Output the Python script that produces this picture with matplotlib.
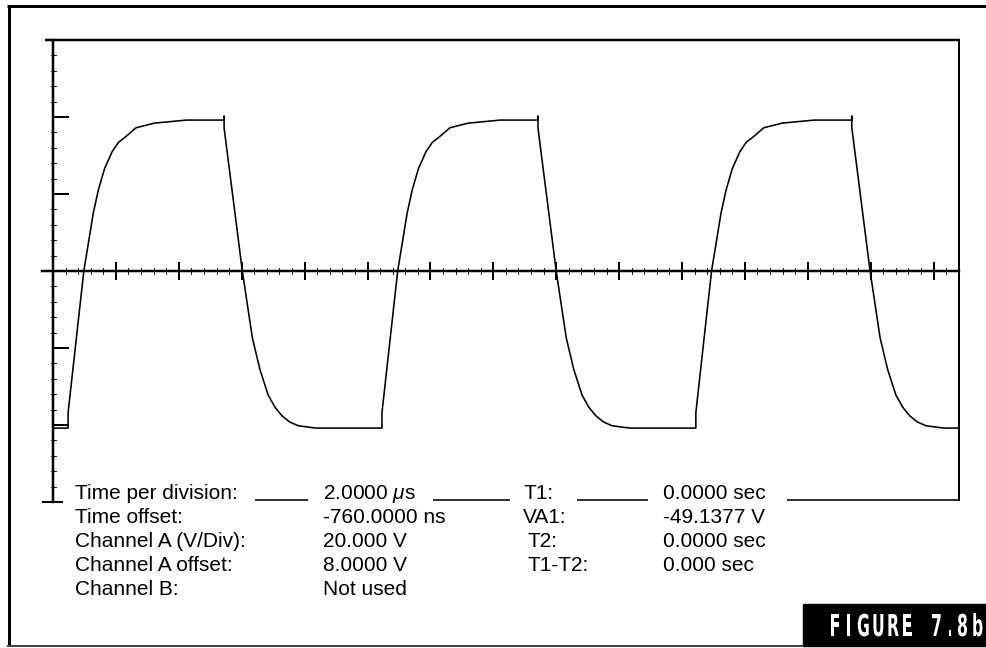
import matplotlib

matplotlib.use("Agg")

import matplotlib.pyplot as plt
import numpy as np
from matplotlib.font_manager import FontProperties
from matplotlib.patches import PathPatch, Rectangle
from matplotlib.textpath import TextPath
from matplotlib.transforms import Affine2D

W, H = 986, 648

# scope trace, in screen divisions (x: horizontal ticks, y: vertical divisions)
trace_x = [
    0.00,
    0.24, 0.24, 0.49, 0.64, 0.72, 0.82, 0.94, 1.04, 1.15, 1.32, 1.61, 2.12,
    2.72, 2.72, 2.72, 3.01, 3.17, 3.29, 3.42, 3.53, 3.64, 3.76, 3.90, 4.18,
    5.23, 5.23, 5.48, 5.63, 5.71, 5.81, 5.93, 6.03, 6.14, 6.31, 6.60, 7.11,
    7.71, 7.71, 7.71, 8.00, 8.16, 8.28, 8.41, 8.52, 8.63, 8.75, 8.89, 9.17,
    10.22, 10.22, 10.47, 10.62, 10.70, 10.80, 10.92, 11.02, 11.13, 11.30, 11.59, 12.10,
    12.70, 12.70, 12.70, 12.99, 13.15, 13.27, 13.40, 13.51, 13.62, 13.74, 13.88, 14.16,
    14.40,
]
trace_y = [
    -2.04,
    -2.04, -1.84, 0.00, 0.75, 1.05, 1.33, 1.55, 1.67, 1.74, 1.86, 1.92, 1.96,
    1.96, 2.01, 1.86, 0.00, -0.87, -1.28, -1.61, -1.77, -1.88, -1.96, -2.01, -2.04,
    -2.04, -1.84, 0.00, 0.75, 1.05, 1.33, 1.55, 1.67, 1.74, 1.86, 1.92, 1.96,
    1.96, 2.01, 1.86, 0.00, -0.87, -1.28, -1.61, -1.77, -1.88, -1.96, -2.01, -2.04,
    -2.04, -1.84, 0.00, 0.75, 1.05, 1.33, 1.55, 1.67, 1.74, 1.86, 1.92, 1.96,
    1.96, 2.01, 1.86, 0.00, -0.87, -1.28, -1.61, -1.77, -1.88, -1.96, -2.01, -2.04,
    -2.04,
]

x_major = list(range(1, 15))
y_major = [-2, -1, 1, 2]
x_end = 14.40
y_top, y_bottom = 3.0, -3.0

info_labels = ["Time per division:", "Time offset:", "Channel A (V/Div):", "Channel A offset:", "Channel B:"]
info_values = ["2.0000 $\\mu$s", "-760.0000 ns", "20.000 V", "8.0000 V", "Not used"]
cursor_labels = ["T1:", "VA1:", "T2:", "T1-T2:"]
cursor_values = ["0.0000 sec", "-49.1377 V", "0.0000 sec", "0.000 sec"]
figure_tag = "FIGURE 7.8b"

# screen geometry (pixels)
X0_PX, DX_PX = 53.0, 62.9
Y0_PX, DY_PX = 271.0, 77.0


def lw(px):
    return px * 0.72


plt.rcParams["font.family"] = ["Liberation Sans", "DejaVu Sans"]
plt.rcParams["mathtext.fontset"] = "custom"
plt.rcParams["mathtext.it"] = "Liberation Sans:italic"
plt.rcParams["mathtext.rm"] = "Liberation Sans"

fig = plt.figure(figsize=(W / 100, H / 100), dpi=100)
ax = fig.add_axes([0, 0, 1, 1])
ax.set_xlim(-X0_PX / DX_PX, (W - X0_PX) / DX_PX)
ax.set_ylim((Y0_PX - H) / DY_PX, Y0_PX / DY_PX)
ax.axis("off")

px = Affine2D().scale(1 / W, -1 / H).translate(0, 1) + fig.transFigure


def pline(xs, ys, width, color="black"):
    ax.plot(xs, ys, color=color, lw=lw(width), transform=px, solid_capstyle="butt", clip_on=False)


# outer frame
pline([8.5, 8.5], [5, 646], 3)
pline([7, W], [6, 6], 3)
pline([7, 803], [645.5, 645.5], 2, color="#444444")

# graticule frame and axes
k = "black"
ax.plot([-8 / DX_PX, x_end], [y_top, y_top], color=k, lw=lw(2.5), solid_capstyle="butt")
ax.plot([x_end, x_end], [y_top, (Y0_PX - 500) / DY_PX], color=k, lw=lw(2))
ax.plot([0, 0], [y_top, y_bottom], color=k, lw=lw(2.5))
ax.plot([-10 / DX_PX, 9 / DX_PX], [y_bottom, y_bottom], color=k, lw=lw(2))
ax.plot([-11 / DX_PX, x_end], [0, 0], color=k, lw=lw(2.5))

# vertical ticks
for yv in y_major:
    ax.plot([0, 15 / DX_PX], [yv, yv], color=k, lw=lw(2))
for yv in np.arange(-3.0, 3.01, 0.2):
    if abs(yv - round(yv)) > 1e-6:
        ax.plot([-2 / DX_PX, 3 / DX_PX], [yv, yv], color=k, lw=lw(0.9))

# horizontal ticks
for xv in x_major:
    ax.plot([xv, xv], [-8 / DY_PX, 8 / DY_PX], color=k, lw=lw(2))
for xv in np.arange(0.2, x_end, 0.2):
    if abs(xv - round(xv)) > 1e-6:
        ax.plot([xv, xv], [-3 / DY_PX, 3 / DY_PX], color=k, lw=lw(0.9))

# trace
ax.plot(trace_x, trace_y, color=k, lw=lw(1.6), solid_joinstyle="round")

# info block
row_base = [499, 523, 547, 571, 595]
fs = 15
for i, (lab, val) in enumerate(zip(info_labels, info_values)):
    ax.text(75, row_base[i], lab, transform=px, fontsize=fs, va="baseline", ha="left")
    ax.text(323, row_base[i], val, transform=px, fontsize=fs, va="baseline", ha="left")
cursor_x = [523, 523, 527, 527]
for i, (lab, val) in enumerate(zip(cursor_labels, cursor_values)):
    ax.text(cursor_x[i], row_base[i], lab, transform=px, fontsize=fs, va="baseline", ha="left")
    ax.text(663, row_base[i], val, transform=px, fontsize=fs, va="baseline", ha="left")

for xa, xb in [(255, 308), (433, 510), (577, 648), (787, 958)]:
    pline([xa, xb], [500, 500], 1.6)

# figure tag
ax.add_patch(Rectangle((803, 604), W - 803, 42, transform=px, color="black", clip_on=False))
fp = FontProperties(family="DejaVu Sans", weight="bold")
char_x = [830, 846, 857, 872, 887, 902, None, 931, 947, 957, 972]
cap_px = 22.0
sy = cap_px / 0.729
sx = sy * 0.52
for ch, cx in zip(figure_tag, char_x):
    if cx is None:
        continue
    tp = TextPath((0, 0), ch, size=1, prop=fp)
    tr = Affine2D().scale(sx, -sy).translate(cx, 636) + px
    ax.add_patch(PathPatch(tp, transform=tr, color="white", lw=0, clip_on=False))

fig.savefig("out.png", dpi=100)
